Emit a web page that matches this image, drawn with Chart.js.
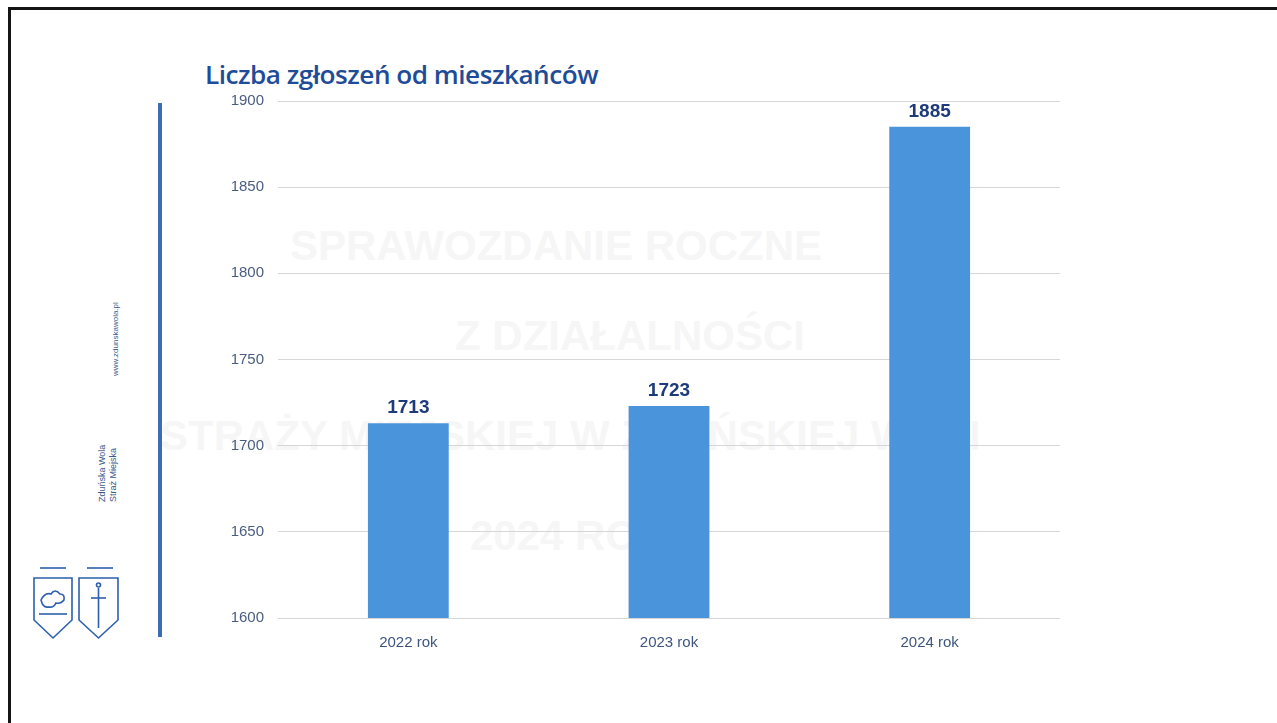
<!DOCTYPE html>
<html lang="pl">
<head>
<meta charset="utf-8">
<title>Liczba zgłoszeń od mieszkańców</title>
<script src="https://cdn.jsdelivr.net/npm/chart.js@4.4.1/dist/chart.umd.min.js"></script>
<style>
    html, body { margin: 0; padding: 0; background: #fff; }
    body { width: 1277px; height: 723px; position: relative; overflow: hidden; font-family: "Liberation Sans", Arial, sans-serif; }
    .frame-top { position: absolute; left: 8px; top: 7px; width: 1269px; height: 3px; background: #151515; }
    .frame-left { position: absolute; left: 8px; top: 7px; width: 3px; height: 716px; background: #151515; }
    .title { position: absolute; left: 205px; top: 56px; font-family: "Open Sans", sans-serif; font-size: 26px; font-weight: 600;
             color: #1f4c98; white-space: nowrap; transform-origin: 0 0; letter-spacing: -0.5px; }
    .side-line { position: absolute; left: 158px; top: 103px; width: 4px; height: 534px; background: #3b6cb6; }
    .rot { position: absolute; transform: rotate(-90deg); transform-origin: 0 0; white-space: nowrap; color: #3b5a8c; }
    .watermark { position: absolute; color: #f6f6f6; font-weight: bold; white-space: nowrap; font-size: 42px; }
    #chart { position: absolute; left: 0; top: 0; }
</style>
</head>
<body>
<div class="frame-top"></div>
<div class="frame-left"></div>

<div class="watermark" style="left:290px; top:222px;">SPRAWOZDANIE ROCZNE</div>
<div class="watermark" style="left:455px; top:312px;">Z DZIAŁALNOŚCI</div>
<div class="watermark" style="left:160px; top:412px;">STRAŻY MIEJSKIEJ W ZDUŃSKIEJ WOLI</div>
<div class="watermark" style="left:470px; top:512px;">2024 ROK</div>

<div class="title" id="title">Liczba zgłoszeń od mieszkańców</div>
<div class="side-line"></div>

<div class="rot" style="left:111px; top:376px; font-size:8px;">www.zdunskawola.pl</div>
<div class="rot" style="left:97px; top:502px; font-size:9px; line-height:11px;">Zduńska Wola<br>Straż Miejska</div>

<svg style="position:absolute; left:32px; top:566px;" width="95" height="76" viewBox="0 0 95 76">
    <g fill="none" stroke="#2d5fae" stroke-width="1.6">
        <line x1="8" y1="2" x2="34" y2="2"/>
        <line x1="55" y1="2" x2="81" y2="2"/>
        <path d="M2 12 H40 V54 L21 72 L2 54 Z"/>
        <path d="M47 12 H86 V54 L66.5 72 L47 54 Z"/>
        <path d="M9 34 q4 -8 10 -6 q4 -6 9 0 q5 0 4 6 q-3 4 -8 3 q-2 5 -8 4 q-5 1 -7 -7 z"/>
        <line x1="7" y1="48" x2="35" y2="48"/>
        <line x1="66.5" y1="22" x2="66.5" y2="62"/>
        <line x1="59" y1="32" x2="74" y2="32"/>
        <circle cx="66.5" cy="19" r="2"/>
    </g>
</svg>

<canvas id="chart" width="1277" height="723"></canvas>

<script>
const categories = ['2022 rok', '2023 rok', '2024 rok'];
const reportCounts = [1713, 1723, 1885];
const yTicks = [1600, 1650, 1700, 1750, 1800, 1850, 1900];

// fit title width to the slide
const titleEl = document.getElementById('title');
const titleW = titleEl.getBoundingClientRect().width;
titleEl.style.transform = 'scaleX(' + (393 / titleW) + ')';

const valueLabels = {
    id: 'valueLabels',
    afterDatasetsDraw(chart) {
        const ctx = chart.ctx;
        const meta = chart.getDatasetMeta(0);
        ctx.save();
        ctx.font = 'bold 19px "Liberation Sans", Arial, sans-serif';
        ctx.fillStyle = '#1d3a7a';
        ctx.textAlign = 'center';
        ctx.textBaseline = 'alphabetic';
        meta.data.forEach((bar, i) => {
            ctx.fillText(String(reportCounts[i]), bar.x, bar.y - 10);
        });
        ctx.restore();
    }
};

new Chart(document.getElementById('chart'), {
    type: 'bar',
    data: {
        labels: categories,
        datasets: [{
            data: reportCounts,
            backgroundColor: '#4a94dc',
            categoryPercentage: 1,
            barPercentage: 0.31
        }]
    },
    options: {
        responsive: false,
        animation: false,
        layout: { padding: { left: 218, right: 217, top: 101, bottom: 65 } },
        plugins: {
            legend: { display: false },
            tooltip: { enabled: false }
        },
        scales: {
            x: {
                grid: { display: false },
                border: { display: false },
                ticks: {
                    color: '#3d5580',
                    font: { family: '"Liberation Sans", Arial, sans-serif', size: 15 },
                    padding: 8
                },
                afterFit(scale) { scale.height = 40; }
            },
            y: {
                min: 1600,
                max: 1900,
                afterBuildTicks(scale) { scale.ticks = yTicks.map(v => ({ value: v })); },
                grid: { color: '#d6d6d6', lineWidth: 1, drawTicks: false },
                border: { display: false },
                ticks: {
                    color: '#4a5d80',
                    font: { family: '"Liberation Sans", Arial, sans-serif', size: 15 },
                    padding: 14,
                    callback: (v) => String(v)
                },
                afterFit(scale) { scale.width = 60; }
            }
        }
    },
    plugins: [valueLabels]
});
</script>
</body>
</html>
